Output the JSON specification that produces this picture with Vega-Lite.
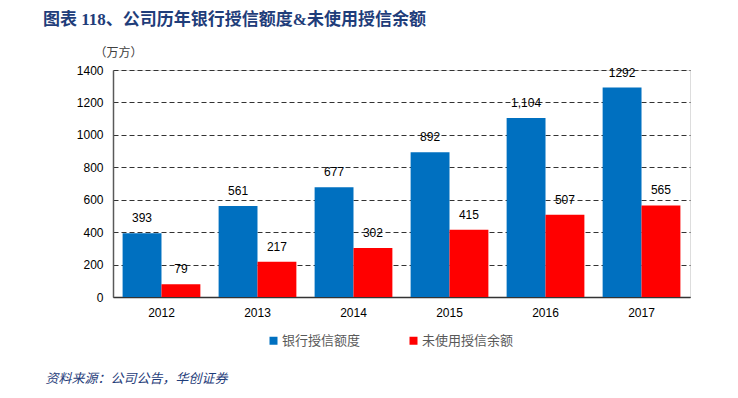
{
  "$schema": "https://vega.github.io/schema/vega-lite/v6.json",
  "width": 577,
  "height": 227,
  "autosize": {"type": "none"},
  "padding": {"left": 113, "top": 70, "right": 48, "bottom": 101},
  "background": "white",
  "title": {
    "text": "图表 118、公司历年银行授信额度&未使用授信余额",
    "anchor": "start",
    "frame": "group",
    "dx": -70,
    "offset": 17,
    "font": "Liberation Serif, Noto Sans CJK SC",
    "fontSize": 17,
    "fontWeight": "bold",
    "color": "#1F3D7A"
  },
  "data": {
    "values": [
      {"year": "2012", "series": "银行授信额度", "value": 393, "label": "393"},
      {"year": "2012", "series": "未使用授信余额", "value": 79, "label": "79"},
      {"year": "2013", "series": "银行授信额度", "value": 561, "label": "561"},
      {"year": "2013", "series": "未使用授信余额", "value": 217, "label": "217"},
      {"year": "2014", "series": "银行授信额度", "value": 677, "label": "677"},
      {"year": "2014", "series": "未使用授信余额", "value": 302, "label": "302"},
      {"year": "2015", "series": "银行授信额度", "value": 892, "label": "892"},
      {"year": "2015", "series": "未使用授信余额", "value": 415, "label": "415"},
      {"year": "2016", "series": "银行授信额度", "value": 1104, "label": "1,104"},
      {"year": "2016", "series": "未使用授信余额", "value": 507, "label": "507"},
      {"year": "2017", "series": "银行授信额度", "value": 1292, "label": "1292"},
      {"year": "2017", "series": "未使用授信余额", "value": 565, "label": "565"}
    ]
  },
  "encoding": {
    "x": {
      "field": "year",
      "type": "nominal",
      "scale": {"paddingInner": 0.19, "paddingOuter": 0.1},
      "axis": {
        "labelAngle": 0,
        "labelFont": "Liberation Sans",
        "labelFontSize": 12,
        "labelColor": "#000000",
        "labelPadding": 10,
        "ticks": false,
        "domainColor": "#333333",
        "domainWidth": 1.5,
        "title": "资料来源：公司公告，华创证券",
        "titleX": -68,
        "titleY": 81,
        "titleAnchor": "start",
        "titleAlign": "left",
        "titleBaseline": "middle",
        "titleFont": "Noto Sans CJK SC",
        "titleFontSize": 13,
        "titleFontWeight": "normal",
        "titleFontStyle": "italic",
        "titleColor": "#1F3D7A"
      }
    },
    "xOffset": {"field": "series", "type": "nominal", "sort": ["银行授信额度", "未使用授信余额"]},
    "y": {
      "field": "value",
      "type": "quantitative",
      "scale": {"domain": [0, 1400], "nice": false},
      "axis": {
        "values": [0, 200, 400, 600, 800, 1000, 1200, 1400],
        "format": "d",
        "labelFont": "Liberation Sans",
        "labelFontSize": 12,
        "labelColor": "#000000",
        "labelPadding": 10,
        "ticks": false,
        "domainColor": "#595959",
        "domainWidth": 1.5,
        "grid": true,
        "gridColor": "#333333",
        "gridDash": [5, 3],
        "gridWidth": 1,
        "title": "（万方）",
        "titleAngle": 0,
        "titleX": 5,
        "titleY": -18,
        "titleAlign": "center",
        "titleBaseline": "middle",
        "titleFont": "Noto Sans CJK SC",
        "titleFontSize": 12,
        "titleFontWeight": "normal",
        "titleColor": "#404040"
      }
    }
  },
  "layer": [
    {
      "mark": {"type": "bar"},
      "encoding": {
        "color": {
          "field": "series",
          "type": "nominal",
          "sort": ["银行授信额度", "未使用授信余额"],
          "scale": {"domain": ["银行授信额度", "未使用授信余额"], "range": ["#0070C0", "#FF0000"]},
          "legend": {
            "title": null,
            "orient": "none",
            "direction": "horizontal",
            "legendX": 154,
            "legendY": 264,
            "symbolType": "square",
            "symbolSize": 64,
            "symbolStrokeWidth": 0,
            "labelFont": "Noto Sans CJK SC",
            "labelFontSize": 13,
            "labelColor": "#595959",
            "labelOffset": 2,
            "columnPadding": 46
          }
        }
      }
    },
    {
      "mark": {"type": "text", "baseline": "bottom", "dy": -8, "font": "Liberation Sans", "fontSize": 12, "color": "#000000"},
      "encoding": {"text": {"field": "label"}}
    }
  ]
}
